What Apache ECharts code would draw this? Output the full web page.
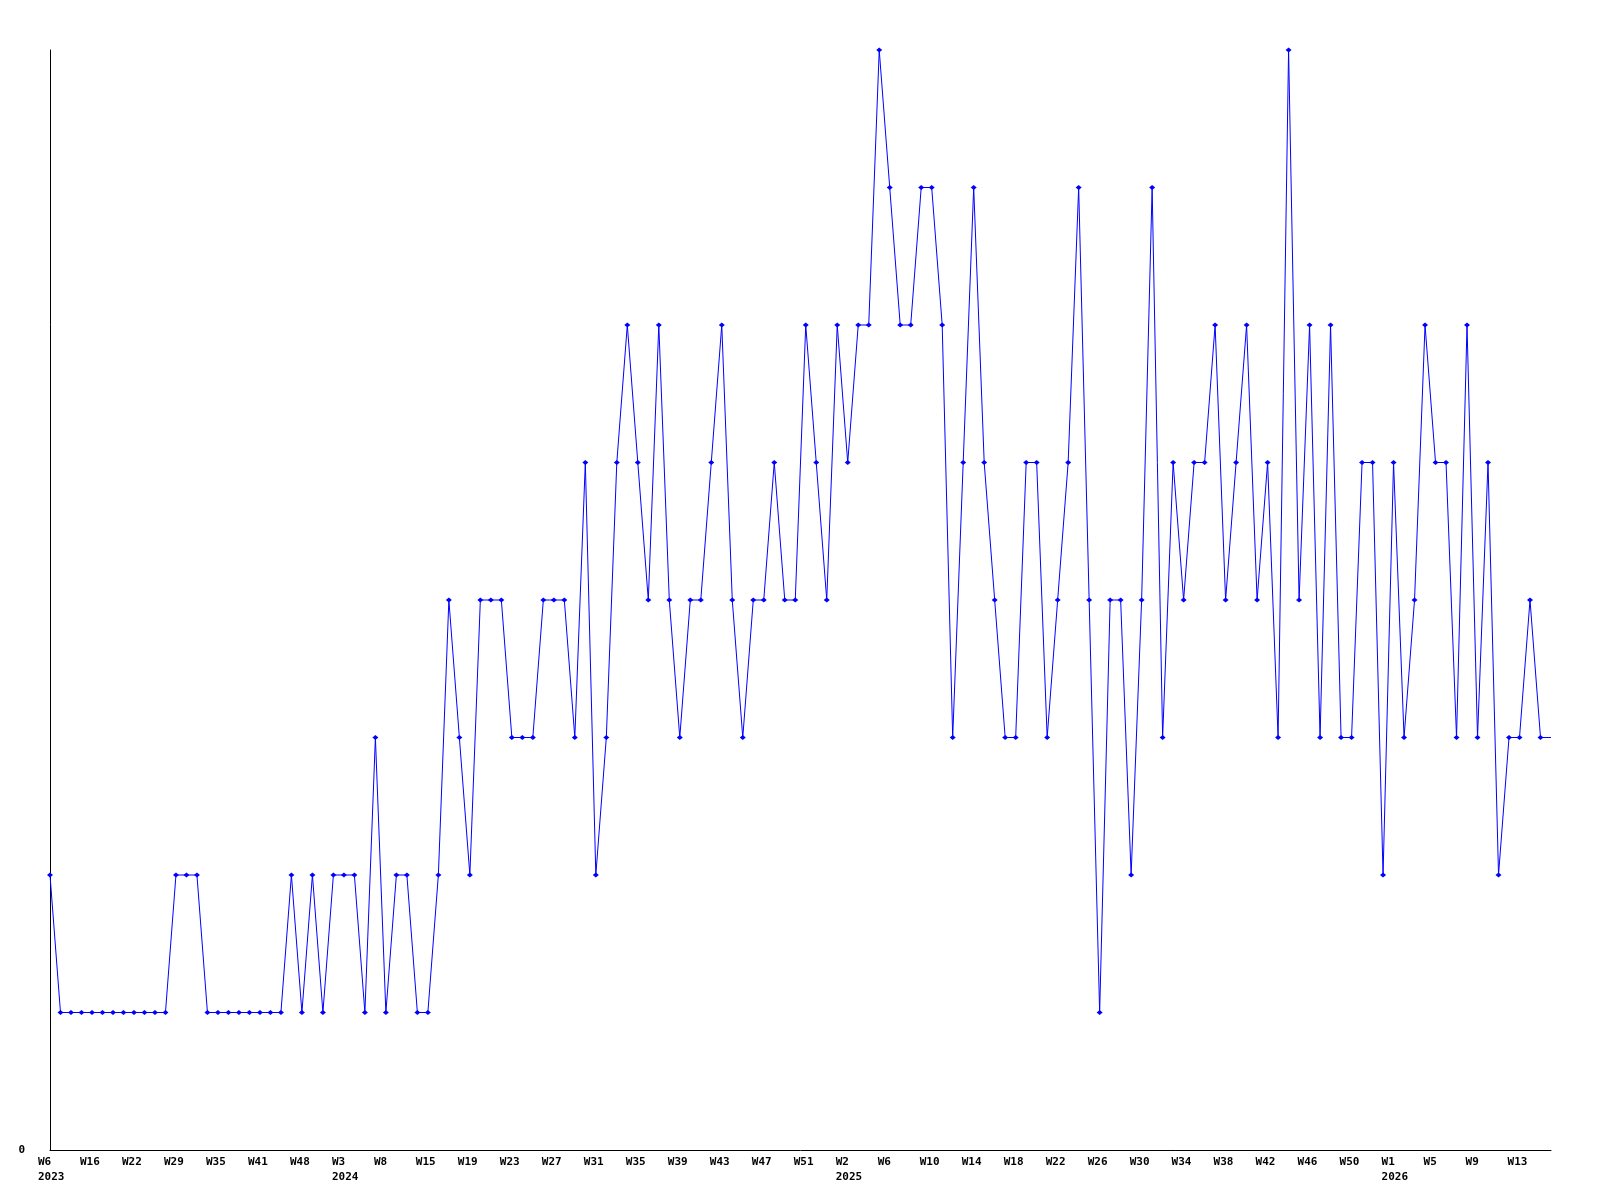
<!DOCTYPE html>
<html>
<head>
<meta charset="utf-8">
<script src="https://cdn.jsdelivr.net/npm/echarts@6/dist/echarts.min.js"></script>
<style>
html,body{margin:0;padding:0;background:#fff;}
#chart{width:1600px;height:1200px;}
</style>
</head>
<body>
<div id="chart"></div>
<script>
// Week categories (year-week)
var categories = [
  '2023-W6','2023-W8','2023-W11','2023-W13','2023-W16','2023-W17','2023-W19','2023-W20','2023-W22','2023-W24',
  '2023-W26','2023-W27','2023-W29','2023-W30','2023-W32','2023-W33','2023-W35','2023-W37','2023-W38','2023-W40',
  '2023-W41','2023-W43','2023-W45','2023-W46','2023-W48','2023-W50','2023-W51','2024-W1','2024-W3','2024-W4',
  '2024-W5','2024-W7','2024-W8','2024-W10','2024-W12','2024-W13','2024-W15','2024-W16','2024-W17','2024-W18',
  '2024-W19','2024-W20','2024-W21','2024-W22','2024-W23','2024-W24','2024-W25','2024-W26','2024-W27','2024-W28',
  '2024-W29','2024-W30','2024-W31','2024-W32','2024-W33','2024-W34','2024-W35','2024-W36','2024-W37','2024-W38',
  '2024-W39','2024-W40','2024-W41','2024-W42','2024-W43','2024-W44','2024-W45','2024-W46','2024-W47','2024-W48',
  '2024-W49','2024-W50','2024-W51','2024-W52','2025-W0','2025-W1','2025-W2','2025-W3','2025-W4','2025-W5',
  '2025-W6','2025-W7','2025-W8','2025-W9','2025-W10','2025-W11','2025-W12','2025-W13','2025-W14','2025-W15',
  '2025-W16','2025-W17','2025-W18','2025-W19','2025-W20','2025-W21','2025-W22','2025-W23','2025-W24','2025-W25',
  '2025-W26','2025-W27','2025-W28','2025-W29','2025-W30','2025-W31','2025-W32','2025-W33','2025-W34','2025-W35',
  '2025-W36','2025-W37','2025-W38','2025-W39','2025-W40','2025-W41','2025-W42','2025-W43','2025-W44','2025-W45',
  '2025-W46','2025-W47','2025-W48','2025-W49','2025-W50','2025-W51','2025-W52','2026-W0','2026-W1','2026-W2',
  '2026-W3','2026-W4','2026-W5','2026-W6','2026-W7','2026-W8','2026-W9','2026-W10','2026-W11','2026-W12',
  '2026-W13','2026-W14','2026-W15','2026-W16'
];

// Weekly counts
var values = [
  2,1,1,1,1,1,1,1,1,1,
  1,1,2,2,2,1,1,1,1,1,
  1,1,1,2,1,2,1,2,2,2,
  1,3,1,2,2,1,1,2,4,3,
  2,4,4,4,3,3,3,4,4,4,
  3,5,2,3,5,6,5,4,6,4,
  3,4,4,5,6,4,3,4,4,5,
  4,4,6,5,4,6,5,6,6,8,
  7,6,6,7,7,6,3,5,7,5,
  4,3,3,5,5,3,4,5,7,4,
  1,4,4,2,4,7,3,5,4,5,
  5,6,4,5,6,4,5,3,8,4,
  6,3,6,3,3,5,5,2,5,3,
  4,6,5,5,3,6,3,5,2,3,
  3,4,3,3
];

// Y axis range
var yMin = 0, yMax = 8;

var seriesData = values.map(function (v, i) {
  return i === values.length - 1 ? { value: v, symbol: 'none' } : v;
});

var FONT = 'DejaVu Sans Mono';

var chart = echarts.init(document.getElementById('chart'), null, { renderer: 'canvas' });
chart.setOption({
  animation: false,
  backgroundColor: '#ffffff',
  grid: { left: 50, right: 49, top: 50, bottom: 50, containLabel: false },
  xAxis: {
    type: 'category',
    data: categories,
    boundaryGap: false,
    axisLine: { show: true, lineStyle: { color: '#000', width: 1 } },
    axisTick: { show: false },
    splitLine: { show: false },
    axisLabel: {
      interval: 3,
      margin: 5,
      formatter: function (val, idx) {
        var parts = val.split('-');
        var s = '{a|' + parts[1] + '}';
        var prev = idx >= 4 ? categories[idx - 4].split('-')[0] : null;
        if (prev !== parts[0]) s += '\n{a|' + parts[0] + '}';
        return s;
      },
      rich: {
        a: {
          width: 24, align: 'left', fontFamily: FONT, fontSize: 11,
          fontWeight: 'bold', color: '#000', lineHeight: 15
        }
      }
    }
  },
  yAxis: {
    type: 'value',
    min: yMin,
    max: yMax,
    interval: 8,
    axisLine: { show: true, lineStyle: { color: '#000', width: 1 } },
    axisTick: { show: false },
    splitLine: { show: false },
    axisLabel: {
      margin: 25,
      fontFamily: FONT, fontSize: 11, fontWeight: 'bold', color: '#000',
      formatter: function (v) { return v === 0 ? '0' : ''; }
    }
  },
  series: [{
    type: 'line',
    data: seriesData,
    symbol: 'diamond',
    symbolSize: [6, 5],
    showAllSymbol: true,
    lineStyle: { color: '#0000ff', width: 1 },
    itemStyle: { color: '#0000ff' },
    emphasis: { disabled: true }
  }]
});
</script>
</body>
</html>
